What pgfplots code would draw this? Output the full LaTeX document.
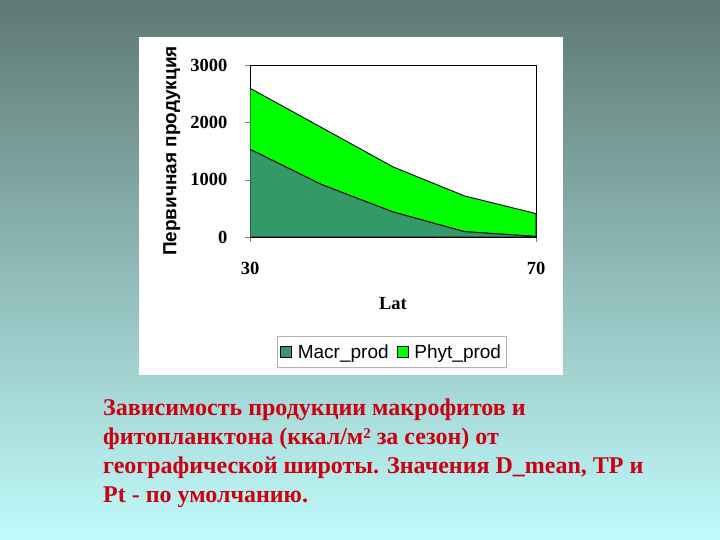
\documentclass[border=0pt]{standalone}
\usepackage{fontspec}
\setmainfont{Liberation Serif}
\newfontfamily\arialf{Liberation Sans}
\usepackage{pgfplots}
\pgfplotsset{compat=1.18}
\definecolor{macr}{HTML}{339966}
\definecolor{phyt}{HTML}{00FF00}
\definecolor{bgtop}{HTML}{5E7973}
\definecolor{bgbot}{HTML}{C0FBFB}
\definecolor{captred}{HTML}{CC0010}

\begin{document}
\begin{tikzpicture}[x=1pt,y=1pt]
\shade[top color=bgtop,bottom color=bgbot] (0,0) rectangle (720,540);
\useasboundingbox (0,0) rectangle (720,540);
\fill[white] (139,165) rectangle (563,503);
\begin{axis}[
    at={(250pt,303pt)}, anchor=south west,
    scale only axis, width=286pt, height=172pt,
    xmin=30, xmax=70, ymin=0, ymax=3000,
    xtick={30,70}, ytick={0,1000,2000,3000},
    tick align=outside, tick pos=left, major tick length=5pt,
    stack plots=y,
    axis line style={line width=0.8pt},
    /pgf/number format/assume math mode=true,
    /pgf/number format/1000 sep={},
    tick label style={font=\fontsize{18.5}{20}\selectfont\bfseries},
    xticklabel style={yshift=-17pt},
    yticklabel style={xshift=-14pt},
    xlabel={Lat},
    every axis x label/.style={at={(axis description cs:0.5,-0.384)},anchor=center,
        font=\fontsize{18.5}{20}\selectfont\bfseries},
    ylabel={Первичная продукция},
    every axis y label/.style={at={(axis description cs:-0.273,0.5)},rotate=90,anchor=center,
        font=\arialf\bfseries\fontsize{19}{20}\selectfont},
    legend columns=2,
    legend style={at={(axis description cs:0.495,-0.669)}, anchor=center,
        draw=gray!60, font=\arialf\fontsize{19}{20}\selectfont,
        inner xsep=3pt, inner ysep=6pt,
        /tikz/every even column/.append style={column sep=6pt}},
    legend image code/.code={\draw[#1,draw=black,line width=0.6pt] (0pt,-5pt) rectangle (11pt,6pt);
        \path (15pt,0pt);},
]
\addplot[fill=macr, draw=black, line width=0.9pt] coordinates {
    (30,1530) (40,915) (50,437) (60,93) (70,10)
} \closedcycle;
\addplot[fill=phyt, draw=black, line width=0.9pt] coordinates {
    (30,1065) (40,995) (50,786) (60,623) (70,398)
} \closedcycle;
\legend{Macr\_prod, Phyt\_prod}
\end{axis}
\begin{scope}[font=\fontsize{24}{29}\selectfont\bfseries, color=captred]
\node[anchor=base west, inner sep=0pt] at (103,124) {Зависимость продукции макрофитов и};
\node[anchor=base west, inner sep=0pt] at (103,95) {фитопланктона (ккал/м\raisebox{0.55ex}{\fontsize{15}{15}\selectfont 2} за сезон) от};
\node[anchor=base west, inner sep=0pt] at (103,66) {географической широты. Значения D\_mean, TP и};
\node[anchor=base west, inner sep=0pt] at (103,37) {Pt - по умолчанию.};
\end{scope}
\end{tikzpicture}
\end{document}
